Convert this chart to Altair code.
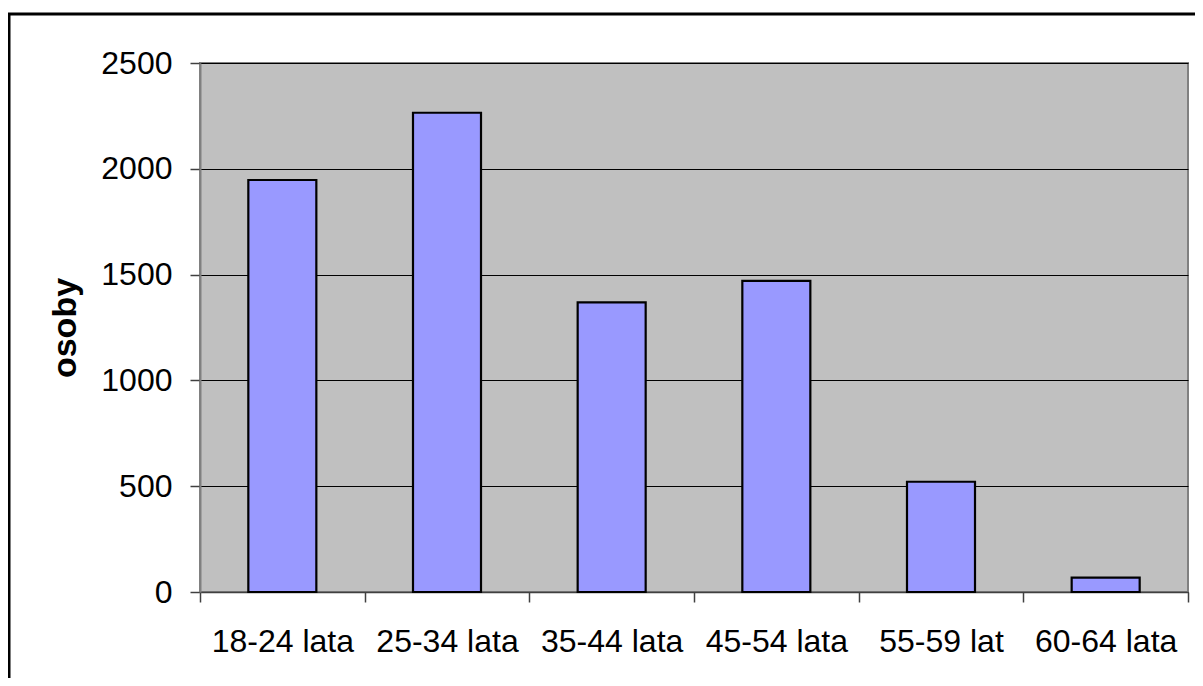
import altair as alt
import pandas as pd

categories = ["18-24 lata", "25-34 lata", "35-44 lata", "45-54 lata", "55-59 lat", "60-64 lata"]
values = [1947, 2265, 1369, 1470, 521, 68]
y_ticks = [0, 500, 1000, 1500, 2000, 2500]

df = pd.DataFrame({"wiek": categories, "osoby": values})

W, H = 988, 529
FONT = "Liberation Sans"

bars = alt.Chart(df).mark_bar(
    color="#9999FF", stroke="#000000", strokeWidth=2.2,
    width=alt.RelativeBandSize(0.413)
).encode(
    x=alt.X("wiek:N", sort=categories, title=None,
            scale=alt.Scale(paddingInner=0, paddingOuter=0),
            axis=alt.Axis(tickBand="extent", labelAngle=0, labelFontSize=32,
                          labelFont=FONT, labelColor="#000000", tickSize=10,
                          tickColor="#404040", domainColor="#404040", domainWidth=1.5,
                          tickWidth=1.5, labelPadding=24, grid=False)),
    y=alt.Y("osoby:Q", title="osoby",
            scale=alt.Scale(domain=[0, 2500], nice=False),
            axis=alt.Axis(values=y_ticks, format="d", labelFontSize=32, labelFont=FONT,
                          labelColor="#000000", tickSize=10, tickColor="#404040",
                          tickWidth=1.5, domainColor="#808080", domainWidth=2,
                          labelPadding=18, grid=True, gridColor="#000000",
                          gridWidth=1, titleFont=FONT, titleFontSize=34,
                          titleFontWeight="bold", titleColor="#000000",
                          titlePadding=18)),
)

frame_df = pd.DataFrame({"k": [0]})
frame = alt.Chart(frame_df).mark_rect(
    fill="transparent", stroke="#000000", strokeWidth=3
).encode(
    x=alt.value(-191), x2=alt.value(W + 60),
    y=alt.value(-49), y2=alt.value(H + 200),
)

chart = alt.layer(bars, frame).properties(
    width=W, height=H,
    autosize=alt.AutoSizeParams(type="none"),
    padding={"left": 192, "top": 55, "right": 7, "bottom": 86},
    background="#FFFFFF",
).configure_view(
    fill="#C0C0C0", stroke="#808080", strokeWidth=2
)

chart.save("out.html", embed_options={"renderer": "svg", "actions": False})
